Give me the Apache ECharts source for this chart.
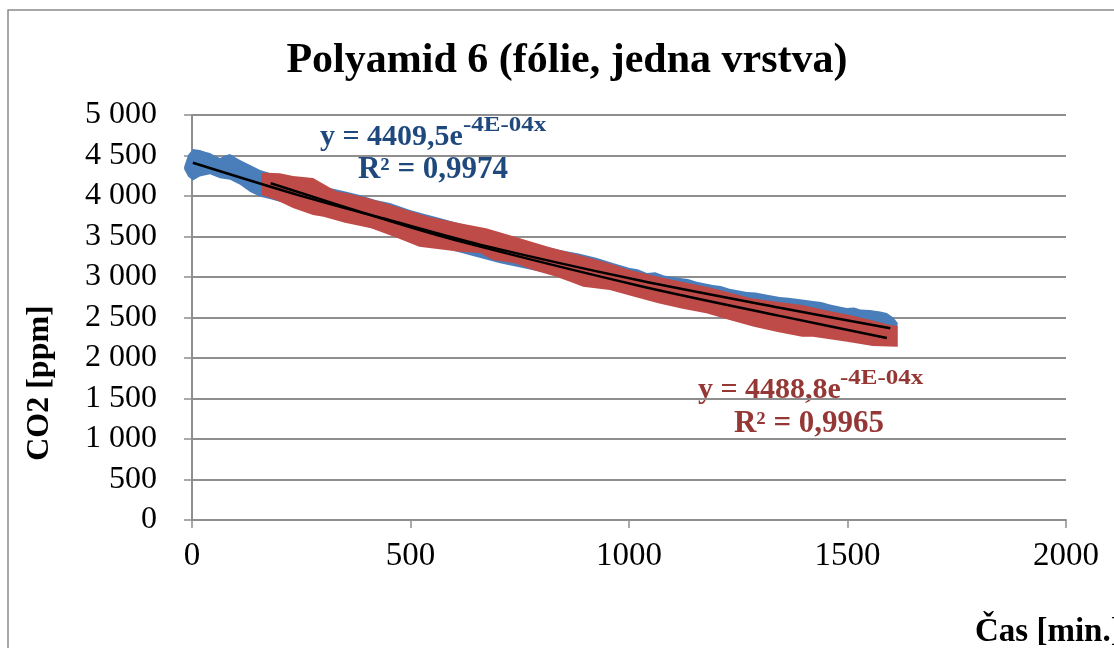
<!DOCTYPE html>
<html>
<head>
<meta charset="utf-8">
<script src="https://cdn.jsdelivr.net/npm/echarts@6/dist/echarts.min.js"></script>
<style>
html,body{margin:0;padding:0;background:#fff;}
#c{width:1114px;height:648px;}
</style>
</head>
<body>
<div id="c"></div>
<script>
// ---- data ----
const xTickLabels = ['0', '500', '1000', '1500', '2000'];
const yTickLabels = ['0', '500', '1 000', '1 500', '2 000', '2 500', '3 000', '3 500', '4 000', '4 500', '5 000'];

// series 1 (blue) – upper and lower edge of the marker band
const blueTopX = [-18, -9, 2, 18, 30, 41, 52, 64, 76, 87, 98, 110, 133, 156, 178, 200, 224, 250, 290, 316, 356, 384, 420, 453, 499, 530, 567, 600, 636, 670, 705, 740, 773, 808, 842, 885, 927, 965, 1002, 1020, 1041, 1060, 1080, 1117, 1135, 1155, 1192, 1210, 1230, 1270, 1290, 1307, 1345, 1365, 1383, 1421, 1440, 1460, 1498, 1515, 1530, 1551, 1575, 1590, 1605, 1615];
const blueTop  = [4360, 4506, 4580, 4568, 4545, 4531, 4500, 4469, 4500, 4519, 4480, 4444, 4383, 4321, 4284, 4250, 4222, 4170, 4115, 4099, 4050, 4012, 3950, 3914, 3827, 3780, 3728, 3680, 3630, 3585, 3543, 3480, 3420, 3375, 3333, 3290, 3235, 3170, 3111, 3095, 3049, 3060, 3020, 2988, 2975, 2940, 2901, 2890, 2855, 2815, 2810, 2790, 2753, 2745, 2730, 2704, 2690, 2660, 2617, 2625, 2600, 2593, 2575, 2556, 2500, 2432];
const blueBotX = [-18, -9, 2, 18, 41, 64, 87, 110, 133, 156, 180, 247, 476, 705, 934, 1162, 1391, 1574, 1613];
const blueBot  = [4330, 4240, 4190, 4240, 4270, 4220, 4200, 4140, 4050, 3990, 3960, 3860, 3500, 3170, 2910, 2630, 2400, 2230, 2340];

// series 2 (red) – upper and lower edge of the marker band
const redTopX = [159, 171, 201, 231, 277, 300, 330, 356, 395, 432, 490, 542, 613, 673, 739, 815, 860, 914, 960, 1002, 1067, 1120, 1177, 1230, 1277, 1330, 1396, 1450, 1505, 1560, 1597, 1615];
const redTop  = [4280, 4288, 4280, 4247, 4222, 4150, 4060, 4033, 3985, 3930, 3830, 3745, 3663, 3601, 3498, 3374, 3310, 3231, 3160, 3087, 3004, 2940, 2880, 2810, 2741, 2700, 2654, 2590, 2531, 2460, 2407, 2395];
const redBotX = [159, 171, 201, 231, 277, 301, 350, 410, 470, 520, 613, 659, 689, 739, 780, 830, 865, 895, 956, 1010, 1067, 1120, 1177, 1230, 1286, 1340, 1396, 1421, 1460, 1499, 1558, 1615];
const redBot  = [4012, 3991, 3930, 3852, 3766, 3745, 3670, 3601, 3480, 3374, 3313, 3296, 3210, 3169, 3087, 3010, 2942, 2880, 2840, 2760, 2675, 2610, 2552, 2470, 2386, 2320, 2263, 2263, 2230, 2201, 2148, 2140];

// exponential trend lines
const blueTrendX = [2, 247, 453, 659, 1025, 1345, 1598];
const blueTrendY = [4410, 4005, 3700, 3400, 2956, 2620, 2367];
const redTrendX = [180, 453, 613, 1025, 1345, 1590];
const redTrendY = [4157, 3690, 3440, 2890, 2520, 2247];

// ---- chart ----
const chart = echarts.init(document.getElementById('c'), null, {renderer: 'canvas'});
const serif = "'Liberation Serif', 'Times New Roman', serif";
const gridGray = '#8e8e8e';
const blueText = '#1F497D';
const redText = '#953735';

function band(topX, topY, botX, botY, color) {
  return {
    type: 'custom',
    silent: true,
    data: topX.map((x, i) => [x, topY[i]]),
    renderItem: function (params, api) {
      if (params.dataIndex !== 0) return null;
      const pts = [];
      for (let i = 0; i < topX.length; i++) pts.push(api.coord([topX[i], topY[i]]));
      for (let i = botX.length - 1; i >= 0; i--) pts.push(api.coord([botX[i], botY[i]]));
      return {type: 'polygon', shape: {points: pts}, style: {fill: color}};
    }
  };
}

function trend(xs, ys) {
  return {
    type: 'line',
    data: xs.map((x, i) => [x, ys[i]]),
    smooth: 0.3,
    showSymbol: false,
    silent: true,
    lineStyle: {color: '#000', width: 2.5}
  };
}

function txt(x, y, s, font, color, align, extra) {
  return Object.assign({type: 'text', x: x, y: y, silent: true,
    style: {text: s, fill: color, font: font, textAlign: align, textVerticalAlign: 'middle'}}, extra || {});
}

const option = {
  animation: false,
  backgroundColor: '#fff',
  grid: {left: 192, right: 48, top: 115, bottom: 128, containLabel: false},
  xAxis: {
    type: 'value', min: 0, max: 2000, interval: 500,
    axisLine: {show: true, onZero: false, lineStyle: {color: gridGray, width: 2}},
    axisTick: {show: true, length: 8, inside: false, lineStyle: {color: gridGray, width: 1.5}},
    splitLine: {show: false},
    axisLabel: {
      margin: 20, color: '#000', fontFamily: serif, fontSize: 33,
      formatter: v => xTickLabels[Math.round(v / 500)]
    }
  },
  yAxis: {
    type: 'value', min: 0, max: 5000, interval: 500,
    axisLine: {show: true, lineStyle: {color: gridGray, width: 2}},
    axisTick: {show: true, length: 8, inside: false, lineStyle: {color: gridGray, width: 1.5}},
    splitLine: {show: true, lineStyle: {color: gridGray, width: 2}},
    axisLabel: {
      margin: 35, color: '#000', fontFamily: serif, fontSize: 32,
      formatter: v => yTickLabels[Math.round(v / 500)]
    }
  },
  series: [
    band(blueTopX, blueTop, blueBotX, blueBot, '#4A7EBB'),
    band(redTopX, redTop, redBotX, redBot, '#BE4B48'),
    trend(blueTrendX, blueTrendY),
    trend(redTrendX, redTrendY)
  ],
  graphic: {
    elements: [
      {type: 'rect', silent: true, shape: {x: 8, y: 10, width: 1300, height: 800},
       style: {fill: 'none', stroke: '#8a8a8a', lineWidth: 1.5}},
      txt(567, 61, 'Polyamid 6 (fólie, jedna vrstva)', 'bold 42px ' + serif, '#000', 'center'),
      txt(320, 137, 'y = 4409,5e', 'bold 30px ' + serif, blueText, 'left'),
      txt(463, 126, '-4E-04x', 'bold 20px ' + serif, blueText, 'left', {scaleX: 1.25}),
      txt(433, 170, 'R² = 0,9974', 'bold 31px ' + serif, blueText, 'center'),
      txt(698, 390, 'y = 4488,8e', 'bold 30px ' + serif, redText, 'left'),
      txt(840, 379, '-4E-04x', 'bold 20px ' + serif, redText, 'left', {scaleX: 1.25}),
      txt(809, 424, 'R² = 0,9965', 'bold 31px ' + serif, redText, 'center'),
      txt(40, 383, 'CO2 [ppm]', 'bold 32px ' + serif, '#000', 'center', {rotation: Math.PI / 2}),
      txt(975, 632, 'Čas [min.]', 'bold 33px ' + serif, '#000', 'left')
    ]
  }
};
chart.setOption(option);
</script>
</body>
</html>
